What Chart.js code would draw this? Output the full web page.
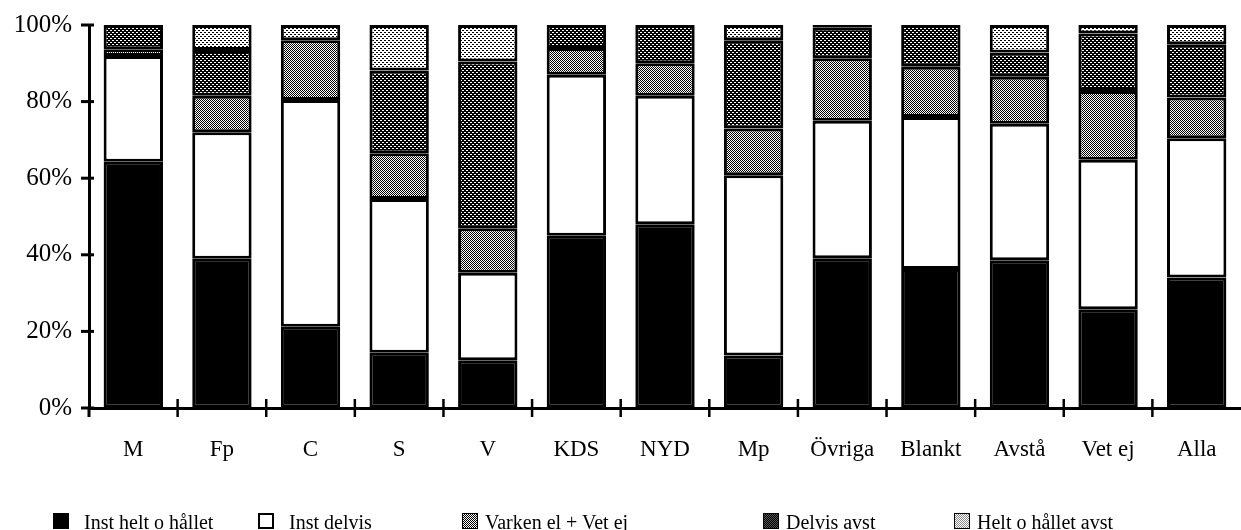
<!DOCTYPE html>
<html>
<head>
<meta charset="utf-8">
<script src="https://cdn.jsdelivr.net/npm/chart.js@4/dist/chart.umd.min.js"></script>
<style>
  html, body { margin: 0; padding: 0; background: #fff; }
  #wrap { position: relative; width: 1241px; height: 530px; }
  #legend { position: absolute; left: 0; top: 0; width: 1241px; height: 530px; pointer-events: none;
            font-family: 'Liberation Serif', 'DejaVu Serif', serif; font-size: 20px; color: #000; }
  .li { position: absolute; top: 510px; height: 20px; line-height: 20px; white-space: nowrap; }
  .sw { position: absolute; top: 3px; left: 0; width: 16px; height: 16px; box-sizing: border-box; }
  .lt { position: absolute; top: 2px; }
</style>
</head>
<body>
<div id="wrap">
  <canvas id="c" width="1241" height="530"></canvas>
  <div id="legend"></div>
</div>
<script>
// ---- data ----
const categories = ['M', 'Fp', 'C', 'S', 'V', 'KDS', 'NYD', 'Mp', 'Övriga', 'Blankt', 'Avstå', 'Vet ej', 'Alla'];
const seriesNames = ['Inst helt o hållet', 'Inst delvis', 'Varken el + Vet ej', 'Delvis avst', 'Helt o hållet avst'];
const instHelt    = [64.3, 39.0, 21.2, 14.4, 12.5, 45.0, 48.0, 13.7, 39.1, 36.3, 38.6, 25.8, 34.1];
const instDelvis  = [27.6, 33.0, 59.2, 40.2, 22.8, 42.0, 33.5, 47.1, 35.9, 39.7, 35.6, 39.0, 36.3];
const varken      = [ 1.8,  9.5, 15.6, 11.9, 11.6,  7.0,  8.5, 12.2, 16.3, 13.1, 12.3, 18.0, 10.7];
const delvisAvst  = [ 6.3, 12.0,  0.0, 21.6, 43.6,  6.0, 10.0, 23.0,  8.0, 10.9,  6.3, 15.0, 13.9];
const heltAvst    = [ 0.0,  6.5,  4.0, 11.9,  9.5,  0.0,  0.0,  4.0,  0.7,  0.0,  7.2,  2.2,  5.0];
const yTickValues = [0, 20, 40, 60, 80, 100];
const yTickLabels = ['0%', '20%', '40%', '60%', '80%', '100%'];

// ---- patterns ----
function makePattern(kind) {
  const c = document.createElement('canvas');
  c.width = 4; c.height = 4;
  const g = c.getContext('2d');
  if (kind === 'light') {
    g.fillStyle = '#fff'; g.fillRect(0, 0, 4, 4);
    g.fillStyle = '#000';
    g.fillRect(0, 0, 2, 1); g.fillRect(2, 2, 2, 1);
  } else if (kind === 'medium') {
    g.fillStyle = '#fff'; g.fillRect(0, 0, 4, 4);
    g.fillStyle = '#000';
    for (let y = 0; y < 4; y++) for (let x = 0; x < 4; x++) if ((x + y) % 2 === 0) g.fillRect(x, y, 1, 1);
  } else {
    g.fillStyle = '#000'; g.fillRect(0, 0, 4, 4);
    g.fillStyle = '#fff';
    g.fillRect(0, 0, 2, 1); g.fillRect(2, 2, 2, 1);
  }
  return g;
}
const ctxMain = document.getElementById('c').getContext('2d');
function pat(kind) { return ctxMain.createPattern(makePattern(kind).canvas, 'repeat'); }
const fills = ['#000000', '#ffffff', pat('medium'), pat('dark'), pat('light')];
const swatchCss = ['#000', '#fff',
  'repeating-conic-gradient(#000 0 25%, #fff 0 50%) 0 0/2px 2px',
  'repeating-conic-gradient(#000 0 25%, #555 0 50%) 0 0/2px 2px',
  'repeating-conic-gradient(#888 0 25%, #fff 0 50%) 0 0/2px 2px'];

const seriesData = [instHelt, instDelvis, varken, delvisAvst, heltAvst];

// ---- legend (HTML text) ----
const legendBoxX = [53, 258, 462, 763, 954];
const legendEl = document.getElementById('legend');
seriesNames.forEach((name, i) => {
  const d = document.createElement('div');
  d.className = 'li';
  d.style.left = legendBoxX[i] + 'px';
  d.innerHTML = '<div class="sw" style="background:' + swatchCss[i] + ';border:' + (i === 1 ? '2px solid #000' : '1px solid #000') + '"></div><span class="lt" style="left:' + (i < 2 ? 31 : 23) + 'px">' + name + '</span>';
  legendEl.appendChild(d);
});

// ---- crossing tick marks ----
const crossTicks = {
  id: 'crossTicks',
  afterDraw(chart) {
    const ctx = chart.ctx, xs = chart.scales.x, ys = chart.scales.y;
    ctx.save();
    ctx.strokeStyle = '#000';
    ctx.lineWidth = 3;
    yTickValues.forEach(v => {
      const py = ys.getPixelForValue(v);
      ctx.beginPath(); ctx.moveTo(xs.left - 8, py); ctx.lineTo(xs.left + 5, py); ctx.stroke();
    });
    ctx.lineWidth = 2.5;
    for (let i = 1; i < categories.length; i++) {
      const px = (xs.getPixelForValue(i - 1) + xs.getPixelForValue(i)) / 2;
      ctx.beginPath(); ctx.moveTo(px, ys.bottom - 9); ctx.lineTo(px, ys.bottom + 9); ctx.stroke();
    }
    ctx.lineWidth = 3;
    ctx.beginPath(); ctx.moveTo(xs.left, ys.bottom); ctx.lineTo(xs.left, ys.bottom + 9); ctx.stroke();
    ctx.restore();
  }
};

new Chart(ctxMain, {
  type: 'bar',
  data: {
    labels: categories,
    datasets: seriesNames.map((n, i) => ({
      label: n,
      data: seriesData[i],
      backgroundColor: fills[i],
      borderColor: '#000',
      borderWidth: 3,
      borderSkipped: false,
      barPercentage: 0.67,
      categoryPercentage: 1.0
    }))
  },
  options: {
    responsive: false,
    animation: false,
    layout: { padding: { top: 25, right: 0, left: 0, bottom: 0 } },
    plugins: { legend: { display: false }, tooltip: { enabled: false } },
    scales: {
      x: {
        stacked: true,
        grid: { display: true, drawOnChartArea: false, drawTicks: false },
        border: { display: true, color: '#000', width: 3 },
        ticks: { color: '#000', padding: 28, font: { family: 'Liberation Serif', size: 23 }, maxRotation: 0, autoSkip: false },
        afterFit(s) { s.height = 122; s.paddingLeft = 0; s.paddingRight = 0; }
      },
      y: {
        stacked: true,
        min: 0, max: 100,
        grid: { display: true, drawOnChartArea: false, drawTicks: false },
        border: { display: true, color: '#000', width: 3 },
        afterBuildTicks(s) { s.ticks = yTickValues.map(v => ({ value: v })); },
        ticks: {
          color: '#000', padding: 17,
          font: { family: 'Liberation Serif', size: 25 },
          callback: (v) => yTickLabels[yTickValues.indexOf(v)]
        },
        afterFit(s) { s.width = 89; s.paddingTop = 0; s.paddingBottom = 0; }
      }
    }
  },
  plugins: [crossTicks]
});
</script>
</body>
</html>
